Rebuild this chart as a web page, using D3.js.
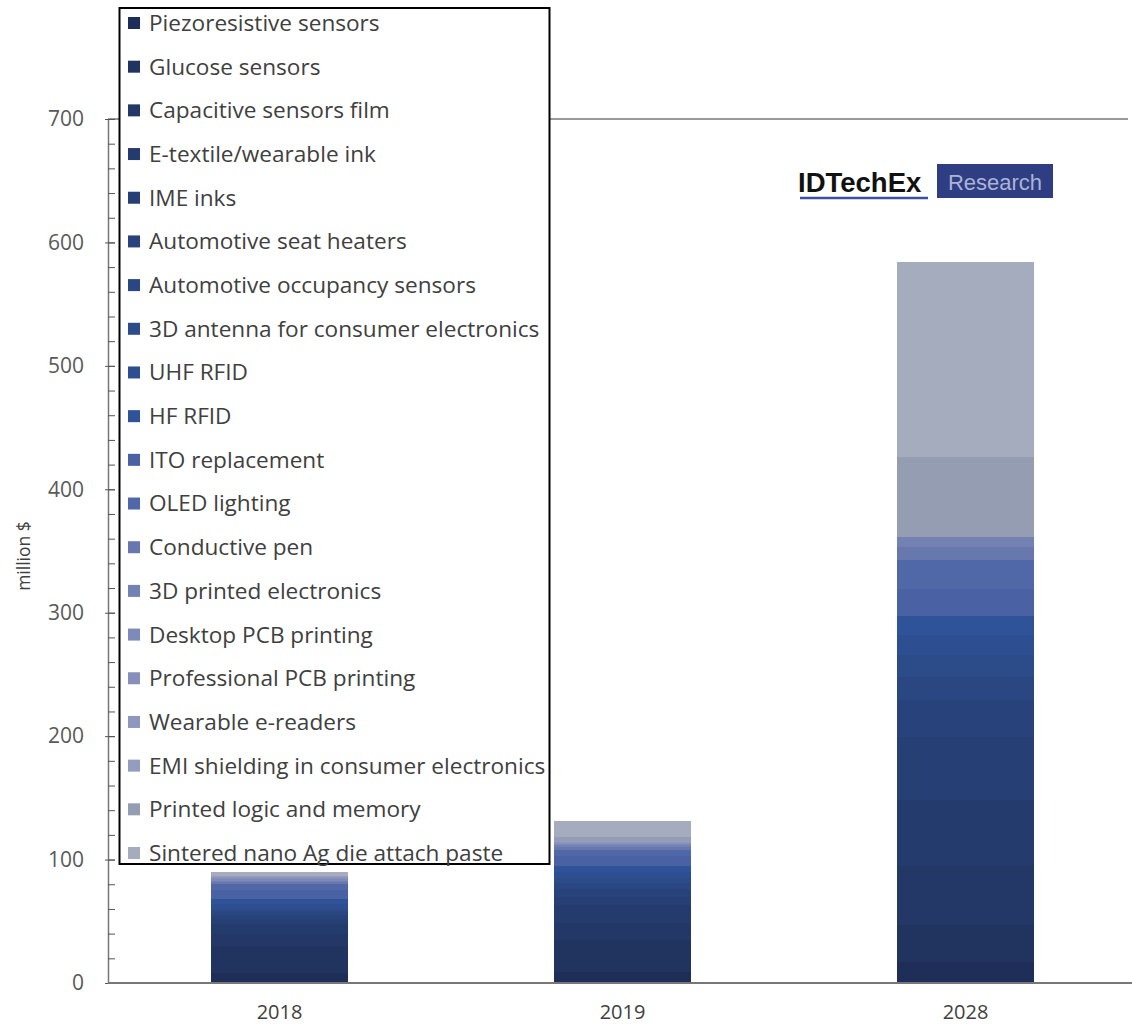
<!DOCTYPE html>
<html>
<head>
<meta charset="utf-8">
<script src="https://cdn.jsdelivr.net/npm/d3@7"></script>
<style>
  body { margin: 0; background: #fff; }
  svg { display: block; font-family: "Open Sans", "Noto Sans", sans-serif; }
</style>
</head>
<body>
<div id="chart"></div>
<script>
// chart data (million $)
var years = ["2018", "2019", "2028"];
var seriesNames = [
    "Piezoresistive sensors", "Glucose sensors", "Capacitive sensors film",
    "E-textile/wearable ink", "IME inks", "Automotive seat heaters",
    "Automotive occupancy sensors", "3D antenna for consumer electronics",
    "UHF RFID", "HF RFID", "ITO replacement", "OLED lighting", "Conductive pen",
    "3D printed electronics", "Desktop PCB printing", "Professional PCB printing",
    "Wearable e-readers", "EMI shielding in consumer electronics",
    "Printed logic and memory", "Sintered nano Ag die attach paste"
];
var values2018 = [8, 22, 10, 8, 4, 3, 3, 2, 4, 4, 7, 5, 2, 1, 1, 1, 0.5, 0.5, 1, 3];
var values2019 = [9, 26, 14, 14, 7, 6, 5, 4, 5, 5, 8, 5, 2, 1.5, 1, 1, 1, 1.5, 2, 13];
var values2028 = [17, 30, 48, 53, 51, 30, 19, 18, 16, 15, 22, 24, 10, 8, 0, 0, 0, 0, 65, 158];
var yTicks = [0, 100, 200, 300, 400, 500, 600, 700];

var colors = [
    "#1f2e58", "#21335f", "#233866", "#243b6d", "#263f74", "#28437b",
    "#2a4782", "#2b4b89", "#2d4f91", "#2f5399", "#4a62a4", "#5068a8",
    "#6878ae", "#7482b3", "#7e8ab7", "#8690ba", "#8e97bd", "#959dbf",
    "#959db3", "#a5acbd"
];

var width = 1132, height = 1029;
var x0 = 108, x1 = 1137, yTop = 119, yBottom = 983;
var fontStack = "'Open Sans', 'Noto Sans', sans-serif";

var svg = d3.select("#chart").append("svg")
    .attr("width", width)
    .attr("height", height);

// build rows for the stack
var byYear = [values2018, values2019, values2028];
var rows = years.map(function (yr, i) {
    var r = { year: yr };
    seriesNames.forEach(function (s, j) { r[s] = byYear[i][j]; });
    return r;
});

var x = d3.scaleBand()
    .domain(years)
    .range([x0, x1])
    .paddingInner(0.6)
    .paddingOuter(0.3);

var y = d3.scaleLinear()
    .domain([0, 700])
    .range([yBottom, yTop]);

var stacked = d3.stack().keys(seriesNames)(rows);

// top frame line
svg.append("line")
    .attr("x1", x0).attr("x2", 1128)
    .attr("y1", yTop).attr("y2", yTop)
    .attr("stroke", "#777").attr("stroke-width", 1.5);

// bars
svg.append("g")
    .attr("shape-rendering", "crispEdges")
    .selectAll("g")
    .data(stacked)
    .enter().append("g")
    .attr("fill", function (d, i) { return colors[i]; })
    .selectAll("rect")
    .data(function (d) { return d; })
    .enter().append("rect")
    .attr("x", function (d) { return x(d.data.year); })
    .attr("width", x.bandwidth())
    .attr("y", function (d) { return y(d[1]); })
    .attr("height", function (d) { return Math.max(0, y(d[0]) - y(d[1])); });

// y axis: major ticks with labels
var yAxis = svg.append("g")
    .attr("transform", "translate(" + x0 + ",0)")
    .call(d3.axisLeft(y).tickValues(yTicks).tickSizeInner(3).tickSizeOuter(0).tickPadding(21));
yAxis.attr("font-family", fontStack);
yAxis.select(".domain").attr("stroke", "#777").attr("stroke-width", 1.5);
yAxis.selectAll(".tick line").attr("stroke", "#555").attr("x2", 7).attr("x1", -3);
yAxis.selectAll("text")
    .attr("fill", "#595959")
    .style("font-size", "21px");

// minor ticks
var minor = svg.append("g")
    .attr("transform", "translate(" + x0 + ",0)")
    .call(d3.axisRight(y).tickValues(d3.range(0, 701, 20)).tickSize(7).tickFormat(""));
minor.select(".domain").remove();
minor.selectAll(".tick line").attr("stroke", "#555");

// x axis
var xAxis = svg.append("g")
    .attr("transform", "translate(0," + yBottom + ")")
    .call(d3.axisBottom(x).tickSize(0).tickPadding(22));
xAxis.attr("font-family", fontStack);
xAxis.select(".domain").remove();
xAxis.selectAll("text")
    .attr("fill", "#404040")
    .style("font-size", "20px");
svg.append("line")
    .attr("x1", x0).attr("x2", 1132)
    .attr("y1", yBottom).attr("y2", yBottom)
    .attr("stroke", "#777").attr("stroke-width", 2);

// y title
svg.append("text")
    .attr("transform", "translate(30,556) rotate(-90)")
    .attr("text-anchor", "middle")
    .attr("fill", "#404040")
    .style("font-size", "17.5px")
    .text("million $");

// legend
var legend = svg.append("g");
legend.append("rect")
    .attr("x", 119.5).attr("y", 8)
    .attr("width", 430).attr("height", 856)
    .attr("fill", "#fff")
    .attr("stroke", "#000").attr("stroke-width", 2);

var ly = d3.scalePoint().domain(seriesNames).range([23, 853]);
var items = legend.selectAll(".item")
    .data(seriesNames)
    .enter().append("g")
    .attr("class", "item")
    .attr("transform", function (d) { return "translate(128," + ly(d) + ")"; });
items.append("rect")
    .attr("x", 0).attr("y", -6)
    .attr("width", 12).attr("height", 12)
    .attr("fill", function (d, i) { return colors[i]; });
items.append("text")
    .attr("x", 21).attr("dy", "0.35em")
    .attr("fill", "#404040")
    .style("font-size", "22.6px")
    .text(function (d) { return d; });

// logo
var logo = svg.append("g");
logo.append("text")
    .attr("x", 798).attr("y", 192)
    .attr("fill", "#111")
    .style("font-family", "Liberation Sans, Arial, sans-serif")
    .style("font-size", "27.5px")
    .style("font-weight", "bold")
    .text("IDTechEx");
logo.append("line")
    .attr("x1", 800).attr("x2", 928)
    .attr("y1", 198).attr("y2", 198)
    .attr("stroke", "#3d4f9e").attr("stroke-width", 2.5);
logo.append("rect")
    .attr("x", 937).attr("y", 164)
    .attr("width", 116).attr("height", 34)
    .attr("fill", "#2f3d82");
logo.append("text")
    .attr("x", 995).attr("y", 190)
    .attr("text-anchor", "middle")
    .attr("fill", "#aab3d6")
    .style("font-family", "Liberation Sans, Arial, sans-serif")
    .style("font-size", "22px")
    .text("Research");
</script>
</body>
</html>
